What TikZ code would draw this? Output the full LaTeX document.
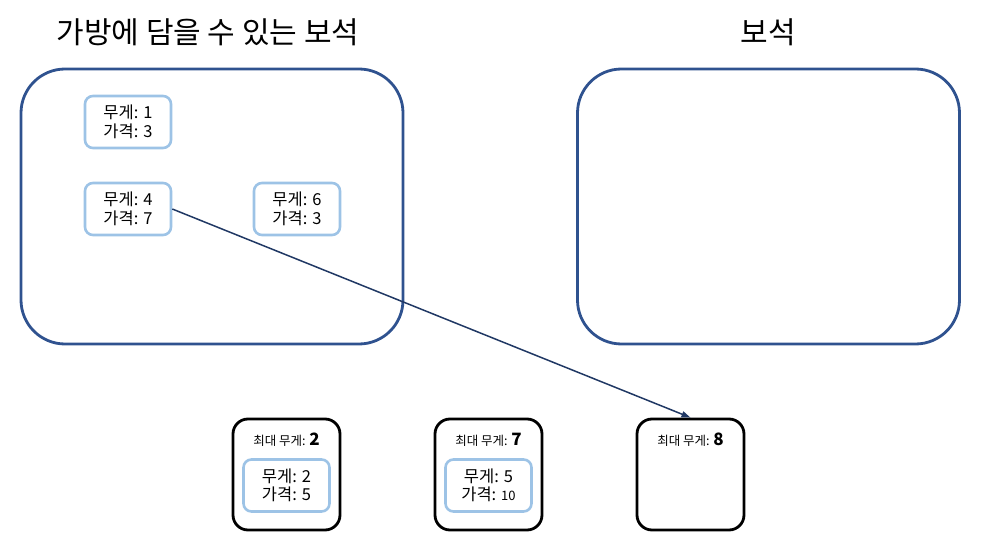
\documentclass[tikz,border=0pt]{standalone}
\usepackage{fontspec}
\setmainfont{Noto Sans CJK KR}
\usetikzlibrary{arrows.meta}
\definecolor{bagblue}{HTML}{2F528F}
\definecolor{itemblue}{HTML}{9DC3E6}
\definecolor{arrownavy}{HTML}{203864}
\tikzset{
  bigbox/.style={draw=bagblue, line width=2.8pt, rounded corners=44pt, minimum width=382pt, minimum height=275pt, inner sep=0pt},
  itembox/.style={draw=itemblue, line width=2.6pt, rounded corners=8pt, minimum width=86pt, minimum height=52pt, inner sep=0pt, align=center, font=\fontsize{16.5}{18.5}\selectfont},
  capbox/.style={draw=black, line width=2.8pt, rounded corners=15pt, minimum width=107pt, minimum height=111pt, inner sep=0pt},
  captext/.style={font=\fontsize{12.5}{14}\selectfont, inner sep=0pt},
  titletext/.style={font=\fontsize{30}{33}\selectfont, inner sep=0pt},
  link/.style={draw=arrownavy, line width=1.5pt, -{Triangle[length=9pt,width=6pt]}}
}
\begin{document}
\begin{tikzpicture}[x=1pt,y=-1pt]
\useasboundingbox (0,0) rectangle (986,559);
\node[titletext] (t1) at (208,32) {가방에 담을 수 있는 보석};
\node[titletext] (t2) at (768,32) {보석};
\node[bigbox] (bag) at (212,206.5) {};
\node[bigbox] (gems) at (768.5,206.5) {};
\node[itembox] (i1) at (128,122) {무게: 1\\가격: 3};
\node[itembox] (i2) at (128,209) {무게: 4\\가격: 7};
\node[itembox] (i3) at (297,209) {무게: 6\\가격: 3};
\node[capbox] (c1) at (286.5,474.5) {};
\node[capbox] (c2) at (488.5,474.5) {};
\node[capbox] (c3) at (690.5,474.5) {};
\node[captext] (l1) at (286.5,440) {최대 무게: {\fontsize{17}{17}\selectfont\bfseries 2}};
\node[captext] (l2) at (488.5,440) {최대 무게: {\fontsize{17}{17}\selectfont\bfseries 7}};
\node[captext] (l3) at (690.5,440) {최대 무게: {\fontsize{17}{17}\selectfont\bfseries 8}};
\node[itembox] (i4) at (286.5,485.5) {무게: 2\\가격: 5};
\node[itembox] (i5) at (488.5,485.5) {무게: 5\\가격: {\fontsize{13}{13}\selectfont 10}};
\draw[link] (i2.east) -- (c3.north);
\end{tikzpicture}
\end{document}
